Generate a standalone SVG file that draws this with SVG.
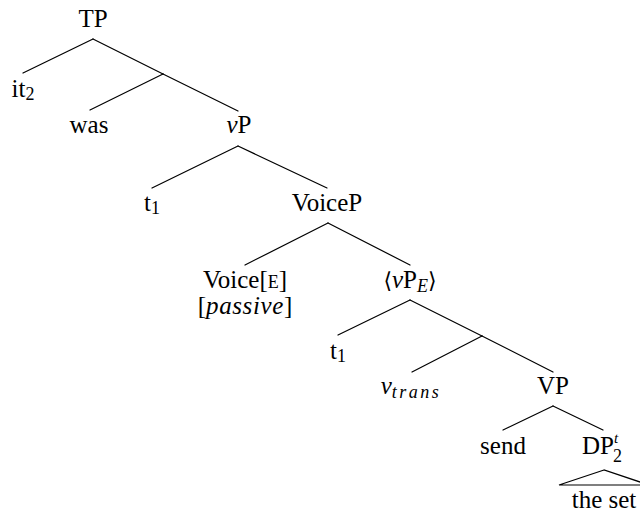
<svg xmlns="http://www.w3.org/2000/svg" width="640" height="516" viewBox="0 0 640 516">
  <style>
    text { font-family: 'Liberation Serif', 'Tinos', 'Times New Roman', 'DejaVu Serif', serif; font-size: 25px; fill: #000; }
    .it { font-style: italic; }
    .sub { font-size: 18px; }
    .sup { font-size: 15px; }
    .sc { font-size: 18px; }
    .ang { font-family: 'DejaVu Serif', serif; font-size: 22px; }
    .edge { stroke: #000; stroke-width: 1.2; fill: none; stroke-linecap: round; }
  </style>
  <rect width="640" height="516" fill="#fff"/>

  <!-- branches -->
  <g id="connectors">
    <line class="edge" x1="93" y1="39" x2="23" y2="73"/>
    <line class="edge" x1="93" y1="39" x2="163" y2="74"/>
    <line class="edge" x1="163" y1="74" x2="90" y2="110"/>
    <line class="edge" x1="163" y1="74" x2="238" y2="111"/>
    <line class="edge" x1="238" y1="146" x2="152" y2="188"/>
    <line class="edge" x1="238" y1="146" x2="327" y2="188"/>
    <line class="edge" x1="328" y1="223" x2="245" y2="265"/>
    <line class="edge" x1="328" y1="223" x2="410" y2="265"/>
    <line class="edge" x1="410" y1="300" x2="338" y2="335"/>
    <line class="edge" x1="410" y1="300" x2="482" y2="336"/>
    <line class="edge" x1="482" y1="336" x2="412" y2="372"/>
    <line class="edge" x1="482" y1="336" x2="553" y2="372"/>
    <line class="edge" x1="553" y1="406" x2="503" y2="430"/>
    <line class="edge" x1="553" y1="406" x2="603" y2="430"/>
    <polygon class="edge" points="604,470 559,485 649,485"/>
  </g>

  <g id="TP"><text x="93" y="27" text-anchor="middle">TP</text></g>
  <g id="it2"><text x="23" y="97" text-anchor="middle">it<tspan class="sub" dy="3">2</tspan></text></g>
  <g id="was"><text x="89" y="133" text-anchor="middle">was</text></g>
  <g id="vP"><text x="239" y="133" text-anchor="middle"><tspan class="it">v</tspan>P</text></g>
  <g id="t1-upper"><text x="152" y="211" text-anchor="middle">t<tspan class="sub" dy="3">1</tspan></text></g>
  <g id="VoiceP"><text x="327" y="211" text-anchor="middle">VoiceP</text></g>
  <g id="Voice">
    <text x="245" y="288" text-anchor="middle">Voice[<tspan class="sc">E</tspan>]</text>
    <text x="245" y="314" text-anchor="middle">[<tspan class="it" letter-spacing="0.6">passive</tspan>]</text>
  </g>
  <g id="vPE"><text x="410" y="288" text-anchor="middle"><tspan class="ang">⟨</tspan><tspan class="it">v</tspan>P<tspan class="it sub" dy="4">E</tspan><tspan class="ang" dy="-4">⟩</tspan></text></g>
  <g id="t1-lower"><text x="338" y="359" text-anchor="middle">t<tspan class="sub" dy="3">1</tspan></text></g>
  <g id="vtrans"><text class="it" x="411" y="394" text-anchor="middle">v<tspan class="sub" dy="4" letter-spacing="2.5">trans</tspan></text></g>
  <g id="VP"><text x="553" y="394" text-anchor="middle">VP</text></g>
  <g id="send"><text x="503" y="454" text-anchor="middle">send</text></g>
  <g id="DP">
    <text x="582" y="454">DP</text>
    <text class="it sup" x="614" y="443">t</text>
    <text class="sub" x="613" y="462">2</text>
  </g>
  <g id="theset"><text x="604" y="508" text-anchor="middle">the set</text></g>
</svg>
